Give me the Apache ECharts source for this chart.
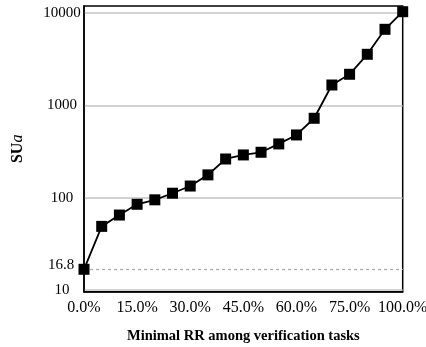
<!DOCTYPE html>
<html>
<head>
<meta charset="utf-8">
<script src="https://cdn.jsdelivr.net/npm/echarts@6/dist/echarts.min.js"></script>
<style>html,body{margin:0;padding:0;background:#fff}#c{width:426px;height:347px}</style>
</head>
<body>
<div id="c"></div>
<script>
var categories = ['0.0%','5.0%','10.0%','15.0%','20.0%','25.0%','30.0%','35.0%','40.0%','45.0%','50.0%','55.0%','60.0%','65.0%','70.0%','75.0%','80.0%','90.0%','100.0%'];
var suValues = [16.8, 49, 65, 85, 95, 112, 134, 177, 263, 291, 311, 383, 479, 726, 1665, 2175, 3580, 6676, 10356];
var yTickLabels = [10, 100, 1000, 10000];
var baselineValue = 16.8;

var FONT = '"Liberation Serif", "DejaVu Serif", serif';
var chart = echarts.init(document.getElementById('c'), null, {renderer: 'canvas'});
chart.setOption({
  animation: false,
  backgroundColor: '#fff',
  grid: {left: 84, right: 23.3, top: 6, bottom: 55.3, show: true, borderColor: '#000', borderWidth: 1.5, containLabel: false, outerBoundsMode: 'none'},
  xAxis: {
    type: 'category',
    data: categories,
    boundaryGap: false,
    axisLine: {lineStyle: {color: '#000', width: 1.5}},
    axisTick: {show: false},
    axisLabel: {interval: 2, color: '#000', fontSize: 16, fontFamily: FONT, margin: 8, hideOverlap: false},
    splitLine: {show: false},
    name: 'Minimal RR among verification tasks',
    nameLocation: 'middle',
    nameGap: 37,
    nameTextStyle: {color: '#000', fontSize: 14.5, fontWeight: 'bold', fontFamily: FONT}
  },
  yAxis: {
    type: 'log',
    logBase: 10,
    min: 9.609,
    max: 11939,
    axisLine: {show: true, lineStyle: {color: '#000', width: 1.5}},
    axisTick: {show: false},
    axisLabel: {
      color: '#000', fontSize: 15, fontFamily: FONT, margin: 22, align: 'center',
      showMinLabel: false, showMaxLabel: false,
      formatter: function (v) {
        for (var i = 0; i < yTickLabels.length; i++) {
          if (Math.abs(v - yTickLabels[i]) / yTickLabels[i] < 1e-6) return String(yTickLabels[i]);
        }
        return '';
      }
    },
    splitLine: {show: true, showMinLine: false, showMaxLine: false, lineStyle: {color: '#c4c4c4', width: 1.5}},
    name: '{b|SU}{i|a}',
    nameLocation: 'middle',
    nameGap: 58,
    nameRotate: 90,
    nameTextStyle: {
      color: '#000', fontFamily: FONT,
      rich: {
        b: {fontSize: 16, fontWeight: 'bold', fontFamily: FONT, color: '#000'},
        i: {fontSize: 16, fontStyle: 'italic', fontFamily: FONT, color: '#000'}
      }
    }
  },
  series: [{
    type: 'line',
    data: suValues,
    symbol: 'rect',
    symbolSize: 11,
    showAllSymbol: true,
    lineStyle: {color: '#000', width: 1.8},
    itemStyle: {color: '#000'},
    z: 5,
    markLine: {
      silent: true,
      symbol: ['none', 'none'],
      lineStyle: {color: '#aaaaaa', type: [3, 3], width: 1.2},
      label: {
        position: 'start', formatter: String(baselineValue), color: '#000',
        fontSize: 15, fontFamily: FONT, distance: 23, align: 'center', offset: [0, -4]
      },
      data: [{yAxis: baselineValue}]
    }
  }]
});
</script>
</body>
</html>
